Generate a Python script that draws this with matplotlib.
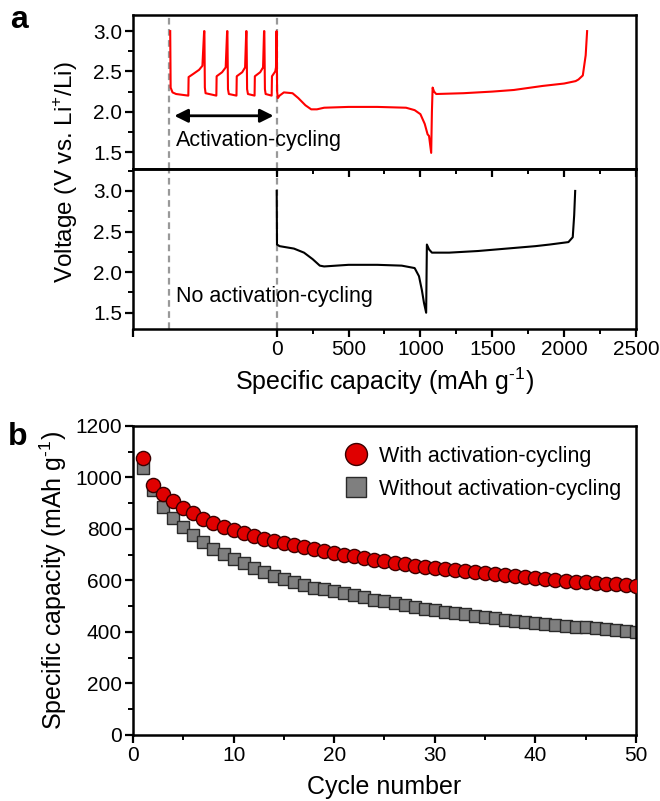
import matplotlib
matplotlib.use("Agg")
import matplotlib.pyplot as plt
from matplotlib.ticker import MultipleLocator, FixedLocator

plt.rcParams['font.family'] = ['Liberation Sans', 'DejaVu Sans']
plt.rcParams['mathtext.fontset'] = 'custom'
plt.rcParams['mathtext.rm'] = 'Liberation Sans'

# ---- panel a, top: with activation cycling (red) ----
cap_act = [-741, -738, -725, -700, -615, -613, -580, -540, -517, -505,
           -503, -500, -495, -420, -418, -380, -355, -345,
           -343, -339, -333, -280, -278, -240, -220, -212,
           -210, -206, -200, -154, -152, -115, -95, -88,
           -86, -82, -77, -35, -33, -10, -5, -1,
           3, 8, 20, 50, 110, 150, 200, 240, 280, 330, 500, 700, 900, 960,
           1000, 1030, 1050, 1060, 1075, 1080, 1085, 1095, 1110, 1300, 1500,
           1650, 1850, 2000, 2080, 2100, 2130, 2150, 2160]
volt_act = [3.0, 2.3, 2.24, 2.22, 2.2, 2.43, 2.47, 2.52, 2.57, 3.0,
            3.0, 2.3, 2.23, 2.2, 2.44, 2.49, 2.55, 3.0,
            3.0, 2.28, 2.22, 2.2, 2.44, 2.49, 2.55, 3.0,
            3.0, 2.28, 2.22, 2.2, 2.44, 2.49, 2.55, 3.0,
            3.0, 2.28, 2.22, 2.2, 2.44, 2.5, 2.55, 3.0,
            2.25, 2.17, 2.2, 2.24, 2.23, 2.17, 2.08, 2.03, 2.03, 2.05, 2.06, 2.06, 2.05, 2.02,
            1.97, 1.85, 1.72, 1.7, 1.49, 2.0, 2.3, 2.25, 2.22, 2.23, 2.25,
            2.27, 2.32, 2.35, 2.38, 2.4, 2.45, 2.7, 3.0]

# ---- panel a, bottom: no activation cycling (black) ----
cap_no = [0, 2, 20, 120, 190, 250, 300, 330, 500, 700, 870, 960, 990, 1010,
          1025, 1040, 1045, 1060, 1080, 1200, 1400, 1600, 1800, 1900, 2030,
          2060, 2070, 2077]
volt_no = [3.0, 2.34, 2.32, 2.29, 2.24, 2.16, 2.08, 2.07, 2.09, 2.09, 2.08, 2.05,
           1.95, 1.78, 1.62, 1.5, 2.34, 2.28, 2.24, 2.24, 2.26, 2.29, 2.32, 2.34,
           2.37, 2.43, 2.7, 3.0]

# ---- panel b: cycling ----
cycles = list(range(1, 51))
with_act = [1074, 972, 937, 908, 883, 861, 840, 824, 809, 795,
            783, 773, 763, 754, 745, 737, 730, 721, 713, 706,
            700, 694, 688, 681, 675, 669, 664, 658, 653, 648,
            644, 640, 636, 632, 628, 624, 620, 616, 612, 608,
            605, 602, 599, 596, 594, 591, 588, 585, 582, 579]
without_act = [1037, 952, 884, 842, 809, 777, 749, 723, 701, 682,
               666, 649, 632, 618, 605, 593, 581, 572, 565, 558,
               550, 542, 534, 526, 519, 512, 505, 498, 491, 485,
               479, 473, 468, 462, 457, 453, 448, 444, 439, 435,
               431, 428, 424, 421, 418, 414, 410, 406, 403, 399]

TICK_FS = 15
LAB_FS = 18
cap_label = 'Specific capacity (mAh g$^{\\text{-1}}$)'

fig = plt.figure(figsize=(6.6, 8.01), dpi=100)
L, R = 0.2015, 0.9636
ax1 = fig.add_axes([L, 0.789, R - L, 0.9813 - 0.789])
ax2 = fig.add_axes([L, 0.5893, R - L, 0.789 - 0.5893])
ax3 = fig.add_axes([L, 0.0824, R - L, 0.4682 - 0.0824])

lw_sp = 1.8
for ax in (ax1, ax2, ax3):
    for s in ax.spines.values():
        s.set_linewidth(lw_sp)
    ax.tick_params(which='major', length=6, width=1.6, labelsize=TICK_FS, pad=2)
    ax.tick_params(which='minor', length=3.5, width=1.4)

# top
ax1.plot(cap_act, volt_act, color='#ff0000', lw=1.5)
ax1.set_xlim(-1000, 2500)
ax1.set_ylim(1.29, 3.2)
ax1.set_yticks([1.5, 2.0, 2.5, 3.0])
ax1.yaxis.set_minor_locator(MultipleLocator(0.25))
ax1.set_xticks([])
ax1.annotate('', xy=(-712, 1.95), xytext=(-22, 1.95),
             arrowprops=dict(arrowstyle='<|-|>', color='black', lw=2.0,
                             mutation_scale=20, shrinkA=0, shrinkB=0))
ax1.text(-700, 1.64, 'Activation-cycling', fontsize=15.5, va='center', ha='left')

# bottom
ax2.plot(cap_no, volt_no, color='black', lw=1.5)
ax2.set_xlim(-1000, 2500)
ax2.set_ylim(1.3, 3.27)
ax2.set_yticks([1.5, 2.0, 2.5, 3.0])
ax2.yaxis.set_minor_locator(MultipleLocator(0.25))
ax2.xaxis.set_major_locator(FixedLocator([-1000, 0, 500, 1000, 1500, 2000, 2500]))
ax2.xaxis.set_minor_locator(FixedLocator([250, 750, 1250, 1750, 2250]))
ax2.set_xticklabels(['', '0', '500', '1000', '1500', '2000', '2500'])
ax2.text(-700, 1.70, 'No activation-cycling', fontsize=15.5, va='center', ha='left')
ax2.set_xlabel(cap_label, fontsize=LAB_FS, labelpad=5)

# inward top ticks on the lower panel
secax = ax2.secondary_xaxis('top')
secax.xaxis.set_major_locator(FixedLocator([0, 500, 1000, 1500, 2000, 2500]))
secax.xaxis.set_minor_locator(FixedLocator([250, 750, 1250, 1750, 2250]))
secax.tick_params(which='both', direction='in', labeltop=False)
secax.tick_params(which='major', length=6, width=1.6)
secax.tick_params(which='minor', length=3.5, width=1.4)
secax.spines['top'].set_linewidth(lw_sp)

for ax in (ax1, ax2):
    for xv in (-748, 0):
        ax.axvline(xv, color='#999999', ls=(0, (3, 2)), lw=1.6, zorder=0)

fig.text(0.100, 0.785, 'Voltage (V vs. Li$^{+}$/Li)', rotation=90,
         fontsize=17.5, ha='center', va='center')

# panel b
ax3.plot(cycles, with_act, 'o', ms=10.2, mfc='#e00000', mec='#3a0000', mew=1.0,
         label='With activation-cycling', zorder=3)
ax3.plot(cycles, without_act, 's', ms=9.0, mfc='#7f7f7f', mec='#2a2a2a', mew=1.0,
         label='Without activation-cycling', zorder=2)
ax3.set_xlim(0, 50)
ax3.set_ylim(0, 1200)
ax3.xaxis.set_major_locator(MultipleLocator(10))
ax3.xaxis.set_minor_locator(MultipleLocator(5))
ax3.yaxis.set_major_locator(MultipleLocator(200))
ax3.yaxis.set_minor_locator(MultipleLocator(100))
ax3.set_xlabel('Cycle number', fontsize=LAB_FS, labelpad=7)
ax3.set_ylabel(cap_label, fontsize=LAB_FS)
ax3.yaxis.set_label_coords(-0.128, 0.5)
ax3.legend(loc='upper right', bbox_to_anchor=(1.0, 0.985), frameon=False,
           fontsize=15.5, handletextpad=0.55, borderaxespad=0.3,
           labelspacing=0.55, markerscale=1.55, handlelength=1.0)

fig.text(0.015, 0.975, 'a', fontsize=23, fontweight='bold', va='center')
fig.text(0.012, 0.455, 'b', fontsize=23, fontweight='bold', va='center')

fig.savefig('out.png', dpi=100)
